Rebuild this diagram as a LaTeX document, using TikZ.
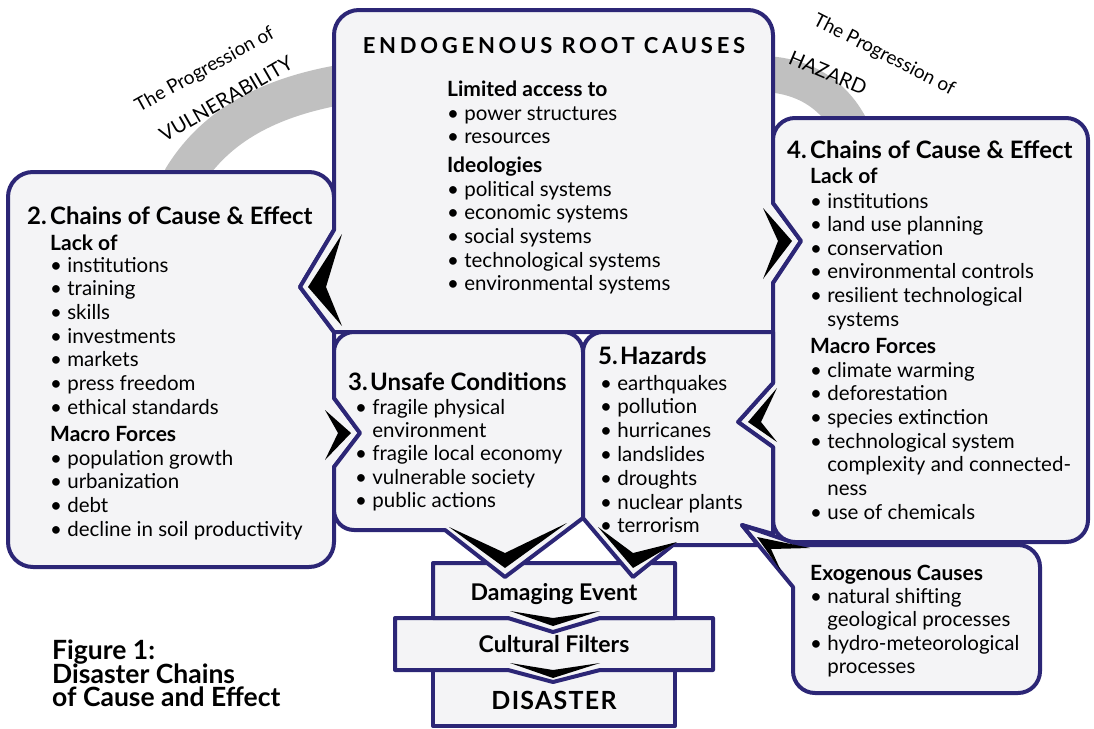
\documentclass[tikz,border=0pt]{standalone}
\usepackage{fontspec}
\setmainfont{Lato}
\definecolor{purp}{RGB}{44,38,118}
\definecolor{boxfill}{RGB}{244,244,246}
\definecolor{bandgray}{RGB}{192,192,192}
\tikzset{
  body/.style={font=\fontsize{20.5}{24}\selectfont, anchor=base west, inner sep=0pt},
  head/.style={font=\fontsize{24}{28}\selectfont\bfseries, anchor=base west, inner sep=0pt},
  sub/.style={font=\fontsize{21}{25}\selectfont\bfseries, anchor=base west, inner sep=0pt},
  ctr/.style={font=\fontsize{23}{27}\selectfont\bfseries, anchor=base, inner sep=0pt},
  captext/.style={font=\fontsize{26.5}{31}\selectfont\bfseries, anchor=base west, inner sep=0pt},
  prog/.style={font=\fontsize{19}{23}\selectfont, inner sep=0pt},
  boxline/.style={draw=purp, line width=4pt, fill=boxfill, line join=round},
  chev/.style={fill=black},
  arcband/.style={draw=bandgray, line width=40pt},
}
\newcommand{\bl}{\textbullet\ }
\newcommand{\ind}{\phantom{\textbullet\ }}
\begin{document}
\begin{tikzpicture}[x=1pt,y=-1pt]
\useasboundingbox (0,0) rectangle (1094,728);
% gray progression bands
\draw[arcband] (182,180) .. controls (212,130) and (262,98) .. (345,84);
\draw[arcband, line width=36pt] (760,74) .. controls (800,74) and (832,92) .. (850,126);
% box 2
\draw[boxline] (8,197) arc[start angle=180,end angle=270,radius=25] -- (309,172)
  arc[start angle=270,end angle=360,radius=25] -- (334,230) -- (300,287) -- (334,332)
  -- (334,398) -- (360,433) -- (334,467) -- (334,542)
  arc[start angle=0,end angle=90,radius=25] -- (33,567)
  arc[start angle=90,end angle=180,radius=25] -- cycle;
% top box
\draw[boxline] (334,35) arc[start angle=180,end angle=270,radius=25] -- (748,10)
  arc[start angle=270,end angle=360,radius=25] -- (773,203) -- (801,241) -- (773,283)
  -- (773,332) -- (334,332) -- (300,287) -- (334,230) -- cycle;
% box 4
\draw[boxline] (773,140) arc[start angle=180,end angle=270,radius=22] -- (1066,118)
  arc[start angle=270,end angle=360,radius=22] -- (1088,520)
  arc[start angle=0,end angle=90,radius=22] -- (795,542)
  arc[start angle=90,end angle=180,radius=22] -- (773,447) -- (738,422) -- (773,383)
  -- (773,283) -- (801,241) -- (773,203) -- cycle;
% bottom stack
\draw[boxline] (433,670) rectangle (675,726);
\draw[boxline] (395,618) -- (713,618) -- (713,670) -- (600,670) -- (553,682) -- (508,670)
  -- (395,670) -- cycle;
\draw[boxline] (433,618) -- (433,563) -- (675,563) -- (675,618) -- (600,618) -- (553,632)
  -- (508,618) -- cycle;
% box 3
\draw[boxline] (334,352) arc[start angle=180,end angle=270,radius=20] -- (563,332)
  arc[start angle=270,end angle=360,radius=20] -- (583,518) -- (505,577) -- (445,530)
  -- (354,530) arc[start angle=90,end angle=180,radius=20] -- (334,467) -- (360,433)
  -- (334,398) -- cycle;
% box 5
\draw[boxline] (583,352) arc[start angle=180,end angle=270,radius=20] -- (773,332)
  -- (773,383) -- (738,422) -- (773,447) -- (773,534) -- (742,525) -- (758,545)
  -- (673,545) -- (633,577) -- (583,518) -- cycle;
% exogenous box
\draw[boxline] (742,525) -- (800,545) -- (1018,545)
  arc[start angle=270,end angle=360,radius=22] -- (1040,671)
  arc[start angle=0,end angle=90,radius=22] -- (815,693)
  arc[start angle=90,end angle=180,radius=22] -- (793,587) -- cycle;
% black chevrons
\fill[chev] (342,234) -- (308,287) -- (342,326) -- (326,287) -- cycle;
\fill[chev] (325,410) -- (351,433) -- (325,460) -- (338,433) -- cycle;
\fill[chev] (763,208) -- (792,241) -- (763,279) -- (778,241) -- cycle;
\fill[chev] (777,388) -- (748,422) -- (777,442) -- (761,422) -- cycle;
\fill[chev] (449,527) -- (505,568) -- (567,523) -- (505,553) -- cycle;
\fill[chev] (598,527) -- (633,568) -- (677,542) -- (633,553) -- cycle;
\fill[chev] (810,548) -- (757,537) -- (781,571) -- (771,549) -- cycle;
\fill[chev] (510,611) -- (553,626) -- (600,611) -- (553,618) -- cycle;
\fill[chev] (510,663) -- (553,678) -- (600,663) -- (553,670) -- cycle;
% progression labels
\node[prog, rotate=29] (pv1) at (205,70) {The Progression of};
\node[prog, rotate=30, font=\fontsize{20}{24}\selectfont] (pv2) at (226,99) {VULNERABILITY};
\node[prog, rotate=-27] (ph1) at (884,55) {The Progression of};
\node[prog, rotate=-23, font=\fontsize{20}{24}\selectfont] (ph2) at (828,73) {HAZARD};
% top box text
\node[ctr, font=\fontsize{22}{26}\selectfont\bfseries\addfontfeatures{LetterSpace=17}] (tt) at (554,53) {ENDOGENOUS ROOT CAUSES};
\node[sub] (ts1) at (447,96) {Limited access to};
\foreach \t [count=\i] in {power structures,resources}
  \node[body] (ta\i) at (447,{120+(\i-1)*23.5}) {\bl\t};
\node[sub] (ts2) at (447,172) {Ideologies};
\foreach \t [count=\i] in {political systems,economic systems,social systems,technological systems,environmental systems}
  \node[body] (tb\i) at (447,{196+(\i-1)*23.7}) {\bl\t};
% box 2 text
\node[head] (b2h) at (27,224) {\makebox[23pt][l]{2.}Chains of Cause \& Effect};
\node[sub] (b2s1) at (50,250) {Lack of};
\foreach \t [count=\i] in {institutions,training,skills,investments,markets,press freedom,ethical standards}
  \node[body] (b2a\i) at (50,{272+(\i-1)*23.7}) {\bl\t};
\node[sub] (b2s2) at (50,441) {Macro Forces};
\foreach \t [count=\i] in {population growth,urbanization,debt,decline in soil productivity}
  \node[body] (b2b\i) at (50,{465+(\i-1)*23.7}) {\bl\t};
% box 3 text
\node[head] (b3h) at (348,390) {\makebox[22pt][l]{3.}Unsafe Conditions};
\foreach \t [count=\i] in {\bl fragile physical,\ind environment,\bl fragile local economy,\bl vulnerable society,\bl public actions}
  \node[body] (b3a\i) at (355,{414+(\i-1)*23.4}) {\t};
% box 5 text
\node[head] (b5h) at (598,364) {\makebox[22pt][l]{5.}Hazards};
\foreach \t [count=\i] in {earthquakes,pollution,hurricanes,landslides,droughts,nuclear plants,terrorism}
  \node[body] (b5a\i) at (600,{390+(\i-1)*23.8}) {\bl\t};
% box 4 text
\node[head] (b4h) at (787,158) {\makebox[23pt][l]{4.}Chains of Cause \& Effect};
\node[sub] (b4s1) at (810,183) {Lack of};
\foreach \t [count=\i] in {\bl institutions,\bl land use planning,\bl conservation,\bl environmental controls,\bl resilient technological,\ind systems}
  \node[body] (b4a\i) at (810,{208+(\i-1)*23.6}) {\t};
\node[sub] (b4s2) at (810,353) {Macro Forces};
\foreach \t [count=\i] in {\bl climate warming,\bl deforestation,\bl species extinction,\bl technological system,\ind complexity and connected-,\ind ness,\bl use of chemicals}
  \node[body] (b4b\i) at (810,{377+(\i-1)*23.7}) {\t};
% exogenous text
\node[sub] (exh) at (810,580) {Exogenous Causes};
\foreach \t [count=\i] in {\bl natural shifting,\ind geological processes,\bl hydro-meteorological,\ind processes}
  \node[body] (exa\i) at (810,{603+(\i-1)*23.6}) {\t};
% bottom stack text
\node[ctr] (de) at (554,600) {Damaging Event};
\node[ctr] (cf) at (554,652) {Cultural Filters};
\node[ctr, font=\fontsize{25}{30}\selectfont\bfseries\addfontfeatures{LetterSpace=5}] (dis) at (554,709) {DISASTER};
% caption
\node[captext] (f1) at (52,659) {Figure 1:};
\node[captext] (f2) at (52,683) {Disaster Chains};
\node[captext] (f3) at (52,706) {of Cause and Effect};
\end{tikzpicture}
\end{document}
